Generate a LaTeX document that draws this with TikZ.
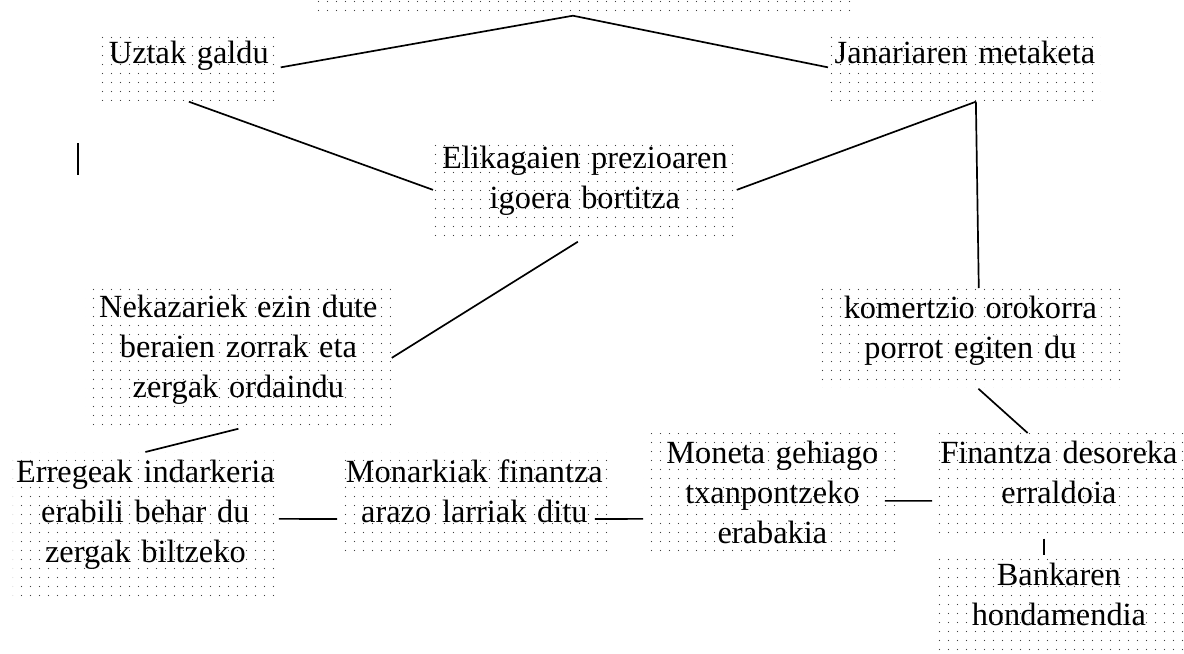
\documentclass[tikz,border=0pt]{standalone}
\usepackage{fontspec}
\setmainfont{Liberation Serif}
\usetikzlibrary{patterns.meta}

\tikzdeclarepattern{
  name=boxdots,
  bottom left={(0pt,0pt)},
  top right={(6.4pt,6.4pt)},
  tile size={(6.4pt,6.4pt)},
  code={\pgfpathcircle{\pgfpoint{3.2pt}{3.2pt}}{0.5pt}\pgfusepath{fill}}
}

\begin{document}
\begin{tikzpicture}[x=0.025cm,y=-0.025cm,line width=1.2pt,
  cell/.style={anchor=north west, pattern=boxdots, pattern color=black!75, inner sep=0pt,
    align=center, text height=0.73cm, font=\fontsize{23}{28.5}\selectfont}]
  \useasboundingbox (0,0) rectangle (1184,653);

  \node[cell, text width=13.55cm, text height=0cm, text depth=0.7cm] (top) at (310,-14) {};
  \node[cell, text width=4.55cm, text depth=0.945cm] (uztak) at (97,33) {Uztak galdu};
  \node[cell, text width=6.8cm, text depth=0.945cm] (jana) at (828,33) {Janariaren metaketa};
  \node[cell, text width=7.55cm, text depth=1.82cm] (elika) at (433,138) {Elikagaien prezioaren\\igoera bortitza};
  \node[cell, text width=7.625cm, text depth=2.77cm] (neka) at (85,287) {Nekazariek ezin dute\\beraien zorrak eta\\zergak ordaindu};
  \node[cell, text width=7.625cm, text depth=1.745cm] (kome) at (817,288) {komertzio orokorra\\porrot egiten du};
  \node[cell, text width=6.625cm, text depth=2.97cm] (erre) at (12,452) {Erregeak indarkeria\\erabili behar du\\zergak biltzeko};
  \node[cell, text width=6.825cm, text depth=1.795cm] (mona) at (337,452) {Monarkiak finantza\\arazo larriak ditu};
  \node[cell, text width=6.425cm, text depth=2.27cm] (moneta) at (643,433) {Moneta gehiago\\txanpontzeko\\erabakia};
  \node[cell, text width=6.3cm, text depth=1.87cm] (fin) at (932,433) {Finantza desoreka\\erraldoia};
  \node[cell, text width=6.3cm, text depth=2.02cm] (bank) at (932,555) {Bankaren\\hondamendia};

  \draw ([xshift=-0.225cm]top.south) -- (uztak.east);
  \draw ([xshift=-0.225cm]top.south) -- (jana.west);
  \draw (uztak.south) -- (elika.west);
  \draw ([xshift=0.275cm]jana.south) -- (elika.east);
  \draw ([xshift=0.275cm]jana.south) -- ([xshift=0.21cm]kome.north);
  \draw ([xshift=-0.175cm]elika.south) -- (neka.east);
  \draw (neka.south) -- (erre.north);
  \draw ([yshift=0.2cm]erre.east) -- ([yshift=-0.39cm]mona.west);
  \draw ([xshift=-0.425cm,yshift=-0.39cm]mona.east) -- ([yshift=-0.625cm]moneta.west);
  \draw ([xshift=-0.425cm,yshift=-0.175cm]moneta.east) -- ([yshift=-0.375cm]fin.west);
  \draw ([xshift=0.2cm]kome.south) -- ([xshift=-0.78cm]fin.north);
  \draw ([xshift=-0.375cm]fin.south) -- ([xshift=-0.375cm]bank.north);

  % text cursor
  \draw[line width=2pt] (78,143) -- (78,175);
\end{tikzpicture}
\end{document}
